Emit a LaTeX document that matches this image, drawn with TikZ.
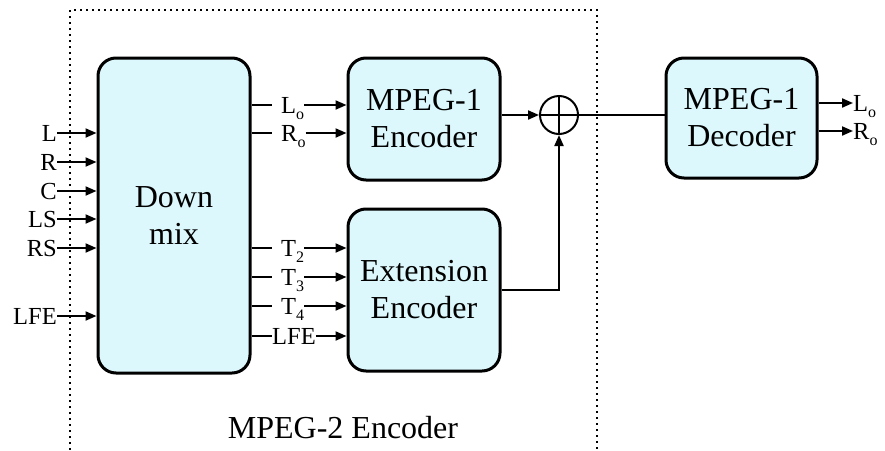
\documentclass[tikz,border=0pt]{standalone}
\usepackage{fontspec}
\setmainfont{Liberation Serif}
\usetikzlibrary{arrows.meta,calc}
\definecolor{boxfill}{RGB}{220,248,252}
\newcommand\sbs[1]{\raisebox{-6pt}{\fontsize{16}{16}\selectfont #1}}
\begin{document}
\begin{tikzpicture}[x=1pt,y=-1pt,
  blk/.style={draw,line width=3pt,fill=boxfill,rounded corners=18pt,align=center,
    font=\fontsize{32}{37}\selectfont,inner sep=0pt},
  lbl/.style={inner xsep=1pt,inner ysep=0pt,text height=16pt,text depth=0pt,
    font=\fontsize{24.5}{28}\selectfont},
  con/.style={line width=2pt},
  arr/.style={line width=2pt,-{Triangle[length=11pt,width=9pt]}},
  frame/.style={line width=2pt,dash pattern=on 2pt off 4pt}
]
\useasboundingbox (0,0) rectangle (885,450);
% dotted frame
\draw[frame] (70,450) -- (70,10) -- (597,10) -- (597,450);
\node[font=\fontsize{32}{37}\selectfont] (m2) at (343,428) {MPEG-2 Encoder};

% blocks
\node[blk,minimum width=152pt,minimum height=315pt] (dm) at (174,215.5) {Down\\mix};
\node[blk,minimum width=152pt,minimum height=122pt] (enc1) at (424,119) {MPEG-1\\Encoder};
\node[blk,minimum width=152pt,minimum height=162pt] (ext) at (424,290) {Extension\\Encoder};
\node[blk,minimum width=151pt,minimum height=120pt] (dec) at (741.5,118) {MPEG-1\\Decoder};
\node[draw,circle,line width=2pt,minimum size=38pt,inner sep=0pt] (sum) at (559,115) {};
\draw[con] (sum.north) -- (sum.south);
\draw[con] (sum.west) -- (sum.east);

% inputs
\foreach \n/\t/\y in {iL/L/133,iR/R/162,iC/C/191,iLS/LS/219,iRS/RS/248,iLFE/LFE/316}{
  \node[lbl,anchor=east,inner xsep=0pt] (\n) at (57,\y) {\t};
  \draw[arr] (\n.east) -- (dm.west|-\n.east);
}

% downmix outputs to MPEG-1 encoder
\foreach \n/\t/\y in {oL/L\sbs{o}/105,oR/R\sbs{o}/133}{
  \node[lbl,anchor=west,inner xsep=0pt] (\n) at (272,\y) {\hspace{9pt}\t\hspace{2pt}};
  \draw[con] (dm.east|-\n.west) -- (\n.west);
  \draw[arr] (\n.east) -- (enc1.west|-\n.east);
}
% downmix outputs to extension encoder
\foreach \n/\t/\y in {o2/T\sbs{2}/248,o3/T\sbs{3}/277,o4/T\sbs{4}/306}{
  \node[lbl,anchor=west,inner xsep=0pt] (\n) at (272,\y) {\hspace{9pt}\t\hspace{2pt}};
  \draw[con] (dm.east|-\n.west) -- (\n.west);
  \draw[arr] (\n.east) -- (ext.west|-\n.east);
}
\node[lbl,anchor=west,inner xsep=0pt] (oLFE) at (272,336) {LFE};
\draw[con] (dm.east|-oLFE.west) -- (oLFE.west);
\draw[arr] (oLFE.east) -- (ext.west|-oLFE.east);

% summation
\draw[arr] (enc1.east|-sum) -- (sum.west);
\draw[arr] (ext.east) -| (sum.south);
\draw[con] (sum.east) -- (dec.west|-sum);

% decoder outputs
\node[lbl,anchor=west,inner xsep=0pt] (dL) at (853,103) {L\sbs{o}};
\node[lbl,anchor=west,inner xsep=0pt] (dR) at (853,131) {R\sbs{o}};
\draw[arr] (dec.east|-dL.west) -- (dL.west);
\draw[arr] (dec.east|-dR.west) -- (dR.west);
\end{tikzpicture}
\end{document}
